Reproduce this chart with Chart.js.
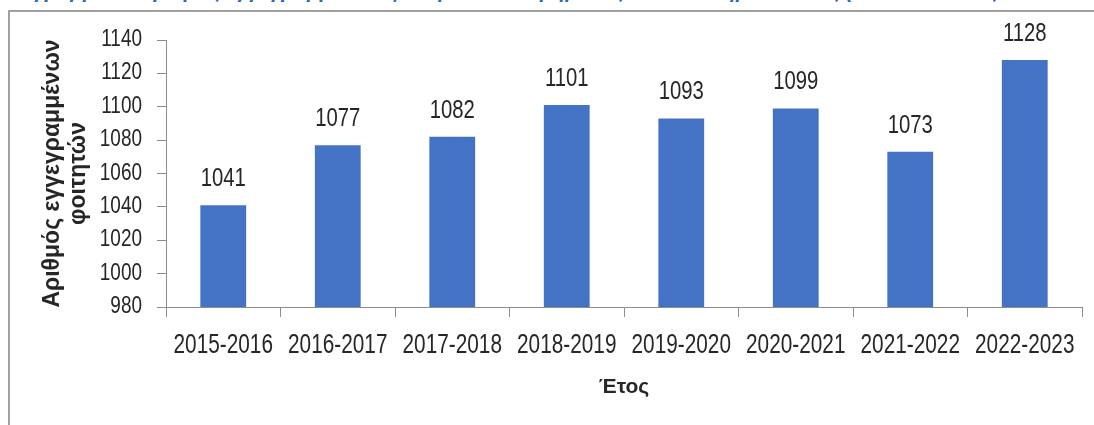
<!DOCTYPE html>
<html lang="el">
<head>
<meta charset="utf-8">
<title>Αριθμός εγγεγραμμένων φοιτητών</title>
<script src="https://cdn.jsdelivr.net/npm/chart.js@4.4.1/dist/chart.umd.min.js"></script>
<style>
  html, body { margin: 0; padding: 0; background: #fff; }
  body { width: 1094px; height: 425px; position: relative; overflow: hidden; }
  .caption { position: absolute; left: 0; top: 0; width: 1094px; height: 6px; overflow: hidden; }
  .caption span {
    display: block; margin-top: -21px; white-space: nowrap;
    font: italic bold 21px 'Liberation Sans', Arial, sans-serif; color: #2b6cb3;
  }
  .frame {
    position: absolute; left: 8px; top: 10px; right: -4px; bottom: -4px;
    border-left: 2px solid #a0a0a0; border-top: 2px solid #a0a0a0;
  }
  .wrap { position: absolute; left: 0; top: 0; width: 1094px; height: 425px; }
</style>
</head>
<body>
<div class="caption"><span>Διάγραμμα 1: Αριθμός εγγεγραμμένων φοιτητών του Τμήματος ανά ακαδημαϊκό έτος (2015-2016 έως 2022-2023)</span></div>
<div class="frame"></div>
<div class="wrap"><canvas id="enrolChart"></canvas></div>

<script>
'use strict';

/* ----------------------------------------------------------
   DATA
   ---------------------------------------------------------- */
const academicYears = ['2015-2016', '2016-2017', '2017-2018', '2018-2019',
                       '2019-2020', '2020-2021', '2021-2022', '2022-2023'];
const enrolledStudents = [1041, 1077, 1082, 1101, 1093, 1099, 1073, 1128];
const yTickValues = [980, 1000, 1020, 1040, 1060, 1080, 1100, 1120, 1140];

const yAxisTitle = ['Αριθμός εγγεγραμμένων', 'φοιτητών'];
const xAxisTitle = 'Έτος';

/* ----------------------------------------------------------
   STYLE
   ---------------------------------------------------------- */
const SANS     = "'Liberation Sans', Arial, sans-serif";
const BAR_BLUE = '#4472c4';
const TEXT     = '#262626';
const AXIS     = '#8c8c8c';

// narrow faces: font size + horizontal squeeze
const Y_TICK_FONT = { size: 24, squeeze: 0.79 };
const X_TICK_FONT = { size: 27, squeeze: 0.77 };
const VALUE_FONT  = { size: 26, squeeze: 0.78 };

/* ----------------------------------------------------------
   HELPERS
   ---------------------------------------------------------- */
function narrowText(ctx, text, x, y, align, squeeze) {
  ctx.save();
  ctx.translate(x, y);
  ctx.scale(squeeze, 1);
  ctx.textAlign = align;
  ctx.fillText(text, 0, 0);
  ctx.restore();
}

/* ----------------------------------------------------------
   PLUGIN: narrow tick labels and value labels
   ---------------------------------------------------------- */
const narrowLabels = {
  id: 'narrowLabels',
  afterDraw(chart) {
    const { ctx, scales: { x, y } } = chart;
    ctx.save();
    ctx.fillStyle = TEXT;
    ctx.textBaseline = 'alphabetic';

    // y ticks
    ctx.font = `${Y_TICK_FONT.size}px ${SANS}`;
    yTickValues.forEach(v => {
      narrowText(ctx, String(v), y.right - 24, y.getPixelForValue(v) + 6, 'right', Y_TICK_FONT.squeeze);
    });

    // x ticks
    ctx.font = `${X_TICK_FONT.size}px ${SANS}`;
    academicYears.forEach((label, i) => {
      narrowText(ctx, label, x.getPixelForValue(i), x.top + 46, 'center', X_TICK_FONT.squeeze);
    });

    // values above bars
    ctx.font = `${VALUE_FONT.size}px ${SANS}`;
    chart.getDatasetMeta(0).data.forEach((bar, i) => {
      narrowText(ctx, String(enrolledStudents[i]), bar.x, bar.y - 19, 'center', VALUE_FONT.squeeze);
    });
    ctx.restore();
  }
};

/* ----------------------------------------------------------
   CHART
   ---------------------------------------------------------- */
const chart = new Chart(document.getElementById('enrolChart'), {
  type: 'bar',
  data: {
    labels: academicYears,
    datasets: [{
      data: enrolledStudents,
      backgroundColor: BAR_BLUE,
      borderWidth: 0,
      barPercentage: 0.8,
      categoryPercentage: 0.5,
    }]
  },
  options: {
    responsive: true,
    maintainAspectRatio: false,
    animation: false,
    events: [],
    layout: { padding: { top: 40, right: 12, left: 0, bottom: 0 } },
    plugins: {
      legend:  { display: false },
      tooltip: { enabled: false },
    },
    scales: {
      x: {
        offset: true,
        grid: {
          offset: true,
          drawOnChartArea: false,
          tickLength: 10,
          color: AXIS,
        },
        border: { color: AXIS, width: 1 },
        ticks: { display: false, autoSkip: false },
        title: {
          display: true,
          text: xAxisTitle,
          color: TEXT,
          font: { family: SANS, size: 21, weight: 'bold' },
          padding: { top: 0, bottom: 25 },
        },
        afterFit: scale => { scale.height = 118; },
      },
      y: {
        min: 980,
        max: 1140,
        afterBuildTicks: axis => { axis.ticks = yTickValues.map(value => ({ value })); },
        grid: {
          drawOnChartArea: false,
          tickLength: 9,
          color: AXIS,
        },
        border: { color: AXIS, width: 1 },
        ticks: { display: false },
        title: {
          display: true,
          text: yAxisTitle,
          color: TEXT,
          font: { family: SANS, size: 23, weight: 'bold', lineHeight: 1.15 },
          padding: { top: 39, bottom: 0 },
        },
        afterFit: scale => { scale.width = 166; },
      }
    }
  },
  plugins: [narrowLabels]
});
</script>
</body>
</html>
